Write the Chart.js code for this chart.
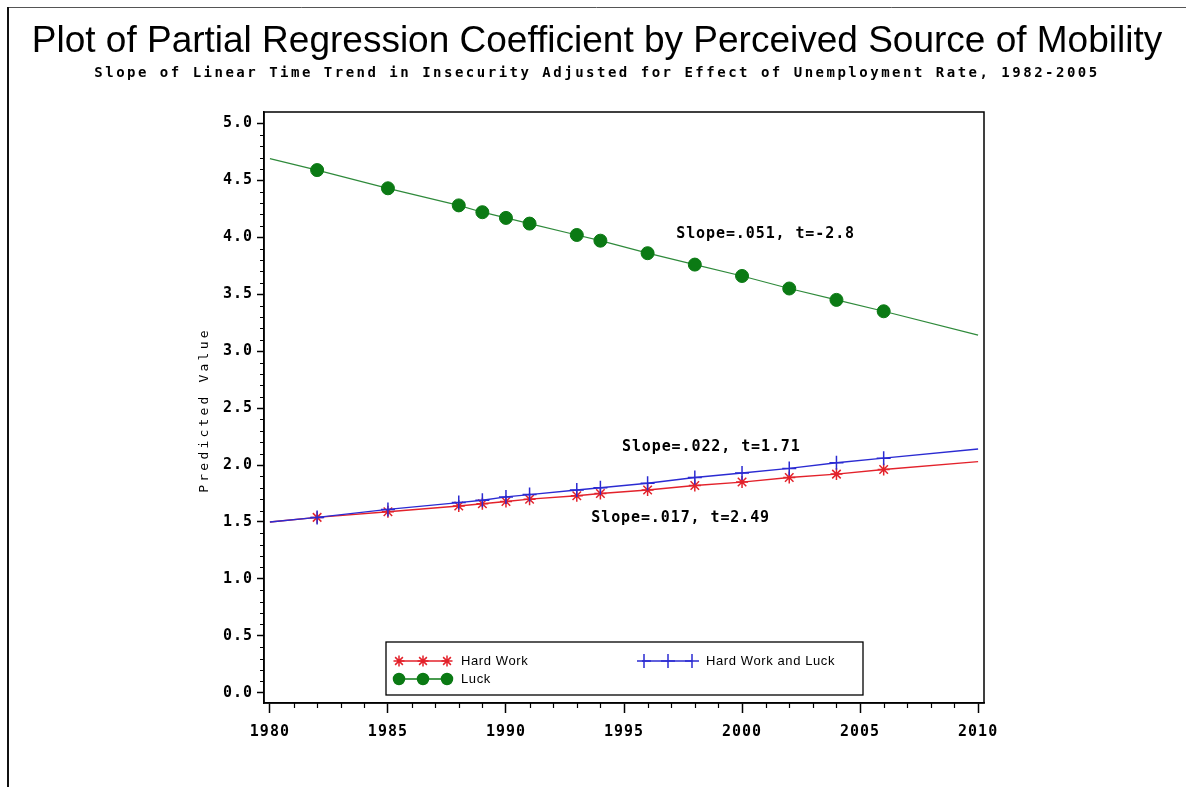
<!DOCTYPE html>
<html>
<head>
<meta charset="utf-8">
<script src="https://cdn.jsdelivr.net/npm/chart.js@4/dist/chart.umd.min.js"></script>
<style>
  html, body { margin: 0; padding: 0; background: #fff; }
  #wrap { position: relative; width: 1186px; height: 787px; }
  canvas { display: block; }
</style>
</head>
<body>
<div id="wrap"><canvas id="c" width="1186" height="787"></canvas></div>
<script>
// Survey years with a predicted value
const years = [1982, 1985, 1988, 1989, 1990, 1991, 1993, 1994, 1996, 1998, 2000, 2002, 2004, 2006];
// Ends of each fitted trend line
const trendYears = [1980, 2010];

const hardWork      = [1.54, 1.59, 1.64, 1.66, 1.68, 1.70, 1.73, 1.75, 1.78, 1.82, 1.85, 1.89, 1.92, 1.96];
const hardWorkTrend = [1.50, 2.03];
const hardWorkLuck      = [1.54, 1.61, 1.67, 1.69, 1.72, 1.74, 1.78, 1.80, 1.84, 1.89, 1.93, 1.97, 2.02, 2.06];
const hardWorkLuckTrend = [1.50, 2.14];
const luck      = [4.59, 4.43, 4.28, 4.22, 4.17, 4.12, 4.02, 3.97, 3.86, 3.76, 3.66, 3.55, 3.45, 3.35];
const luckTrend = [4.69, 3.14];

const xTicks = [1980, 1985, 1990, 1995, 2000, 2005, 2010];
const yTicks = [0, 0.5, 1, 1.5, 2, 2.5, 3, 3.5, 4, 4.5, 5];

// Slope notes, anchored in data units
const notes = [
  { text: 'Slope=.051, t=-2.8', x: 2001.0, y: 4.03 },
  { text: 'Slope=.022, t=1.71', x: 1998.7, y: 2.16 },
  { text: 'Slope=.017, t=2.49', x: 1997.4, y: 1.53 }
];

const TITLE = 'Plot of Partial Regression Coefficient by Perceived Source of Mobility';
const SUBTITLE = 'Slope of Linear Time Trend in Insecurity Adjusted for Effect of Unemployment Rate, 1982-2005';

function series(vals, trend) {
  return [{ x: trendYears[0], y: trend[0] }]
    .concat(years.map((yr, i) => ({ x: yr, y: vals[i] })))
    .concat([{ x: trendYears[1], y: trend[1] }]);
}
function markerRadius(r) {
  return (c) => (c.dataIndex === 0 || c.dataIndex === years.length + 1) ? 0 : r;
}

const RED = '#e3222b', BLUE = '#2b2bd2', GREEN_LINE = '#2f8a3b', GREEN = '#0b7a14';

const datasets = [
  { label: 'Hard Work', data: series(hardWork, hardWorkTrend), borderColor: RED, backgroundColor: RED,
    pointStyle: 'star', pointRadius: markerRadius(6), pointBorderWidth: 1.5, borderWidth: 1.4, order: 2 },
  { label: 'Hard Work and Luck', data: series(hardWorkLuck, hardWorkLuckTrend), borderColor: BLUE, backgroundColor: BLUE,
    pointStyle: 'cross', pointRadius: markerRadius(7), pointBorderWidth: 1.5, borderWidth: 1.4, order: 1 },
  { label: 'Luck', data: series(luck, luckTrend), borderColor: GREEN_LINE, backgroundColor: GREEN,
    pointBorderColor: GREEN, pointStyle: 'circle', pointRadius: markerRadius(6.5), pointBorderWidth: 1, borderWidth: 1.2, order: 3 }
];

const MONO = '"DejaVu Sans Mono", monospace';

const decor = {
  id: 'decor',
  beforeDraw(chart) {
    const ctx = chart.ctx;
    ctx.save();
    ctx.fillStyle = '#fff';
    ctx.fillRect(0, 0, chart.width, chart.height);
    // page frame
    ctx.strokeStyle = '#555';
    ctx.lineWidth = 1;
    ctx.beginPath(); ctx.moveTo(7, 7.5); ctx.lineTo(chart.width, 7.5); ctx.stroke();
    ctx.strokeStyle = '#111';
    ctx.lineWidth = 2;
    ctx.beginPath(); ctx.moveTo(8, 7); ctx.lineTo(8, chart.height); ctx.stroke();
    // titles
    ctx.fillStyle = '#000';
    ctx.textAlign = 'center';
    ctx.textBaseline = 'alphabetic';
    ctx.letterSpacing = '0px';
    ctx.font = '37px "Liberation Sans", Arial, sans-serif';
    ctx.fillText(TITLE, 597, 52);
    ctx.font = 'bold 14px ' + MONO;
    ctx.letterSpacing = '2.5px';
    ctx.fillText(SUBTITLE, 597, 77);
    // y axis title
    ctx.translate(205, 410);
    ctx.rotate(-Math.PI / 2);
    ctx.font = '13px ' + MONO;
    ctx.letterSpacing = '3.2px';
    ctx.textBaseline = 'middle';
    ctx.fillText('Predicted Value', 0, 0);
    ctx.restore();
    // spaced lettering for tick labels
    ctx.letterSpacing = '1px';
  },
  afterDraw(chart) {
    const ctx = chart.ctx;
    const a = chart.chartArea;
    const xs = chart.scales.x, ys = chart.scales.y;
    ctx.save();
    ctx.letterSpacing = '0px';
    // plot frame
    ctx.strokeStyle = '#000';
    ctx.lineWidth = 1.5;
    ctx.strokeRect(a.left, a.top, a.right - a.left, a.bottom - a.top);
    // minor ticks
    ctx.lineWidth = 1.2;
    ctx.beginPath();
    for (let yr = 1980; yr <= 2010; yr++) {
      if (yr % 5 === 0) continue;
      const px = Math.round(xs.getPixelForValue(yr)) + 0.5;
      ctx.moveTo(px, a.bottom); ctx.lineTo(px, a.bottom + 5);
    }
    for (let k = 0; k <= 50; k++) {
      if (k % 5 === 0) continue;
      const py = Math.round(ys.getPixelForValue(k / 10)) + 0.5;
      ctx.moveTo(a.left - 4, py); ctx.lineTo(a.left, py);
    }
    ctx.stroke();
    // slope notes
    ctx.fillStyle = '#000';
    ctx.font = 'bold 15px ' + MONO;
    ctx.letterSpacing = '0.9px';
    ctx.textAlign = 'center';
    ctx.textBaseline = 'middle';
    notes.forEach(n => ctx.fillText(n.text, xs.getPixelForValue(n.x), ys.getPixelForValue(n.y)));
    // legend
    const box = { x: 386, y: 642, w: 477, h: 53 };
    ctx.fillStyle = '#fff';
    ctx.fillRect(box.x, box.y, box.w, box.h);
    ctx.strokeStyle = '#000';
    ctx.lineWidth = 1.3;
    ctx.strokeRect(box.x, box.y, box.w, box.h);
    const slots = [
      { ds: 0, x: 397, y: 661 },
      { ds: 1, x: 642, y: 661 },
      { ds: 2, x: 397, y: 679 }
    ];
    ctx.font = '13px "Liberation Sans", Arial, sans-serif';
    ctx.letterSpacing = '0.6px';
    ctx.textAlign = 'left';
    slots.forEach(s => {
      const d = datasets[s.ds];
      ctx.strokeStyle = d.pointStyle === 'circle' ? GREEN : d.borderColor;
      ctx.lineWidth = 1.5;
      ctx.beginPath(); ctx.moveTo(s.x, s.y); ctx.lineTo(s.x + 50, s.y); ctx.stroke();
      const r = d.pointStyle === 'cross' ? 7 : 5.5;
      for (let i = 0; i < 3; i++) {
        ctx.fillStyle = d.backgroundColor;
        ctx.strokeStyle = d.pointStyle === 'circle' ? GREEN : d.borderColor;
        ctx.lineWidth = 1.5;
        Chart.helpers.drawPoint(ctx, { pointStyle: d.pointStyle, radius: r, rotation: 0, borderWidth: 1.5 },
          s.x + 2 + i * 24, s.y);
      }
      ctx.fillStyle = '#000';
      ctx.fillText(d.label, s.x + 64, s.y);
    });
    ctx.restore();
  }
};

new Chart(document.getElementById('c'), {
  type: 'line',
  data: { datasets },
  options: {
    responsive: false,
    animation: false,
    layout: { padding: { left: 0, top: 112, right: 202, bottom: 0 } },
    plugins: { legend: { display: false }, tooltip: { enabled: false }, title: { display: false } },
    elements: { line: { tension: 0 } },
    scales: {
      x: {
        type: 'linear', min: 1979.75, max: 2010.25,
        afterBuildTicks: (s) => { s.ticks = xTicks.map(v => ({ value: v })); },
        afterFit: (s) => { s.height = 84; },
        grid: { drawOnChartArea: false, drawTicks: true, tickLength: 10, tickWidth: 1.5, tickColor: '#000' },
        border: { display: true, color: '#000', width: 1.5 },
        ticks: { color: '#000', padding: 10, maxRotation: 0, autoSkip: false,
                 font: { family: MONO, size: 15, weight: 'bold' }, callback: v => String(v) }
      },
      y: {
        type: 'linear', min: -0.09, max: 5.1,
        afterBuildTicks: (s) => { s.ticks = yTicks.map(v => ({ value: v })); },
        afterFit: (s) => { s.width = 264; },
        grid: { drawOnChartArea: false, drawTicks: true, tickLength: 7, tickWidth: 1.5, tickColor: '#000' },
        border: { display: true, color: '#000', width: 1.5 },
        ticks: { color: '#000', padding: 4, autoSkip: false,
                 font: { family: MONO, size: 15, weight: 'bold' }, callback: v => v.toFixed(1) }
      }
    }
  },
  plugins: [decor]
});
</script>
</body>
</html>
